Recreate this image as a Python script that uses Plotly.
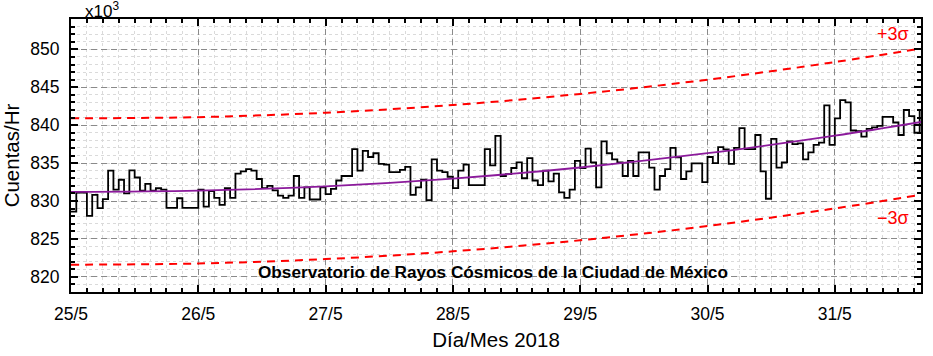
import plotly.graph_objects as go

# Hourly counts (x10^3 counts/hr), starting 25/5 00:00
counts = [
    828.6, 831.1, 831.1, 828.05, 830.8, 829.07, 830.25, 834.0, 831.5, 832.8,
    831.0, 834.05, 833.1, 831.37, 832.25, 831.37, 831.68, 831.5, 829.1, 829.1,
    830.36, 829.1, 829.1, 829.1, 831.5, 829.25, 831.3, 830.4, 829.5, 831.7,
    830.4, 833.6, 833.9, 834.2, 834.0, 832.9, 831.7, 832.0, 831.4, 830.7,
    830.4, 830.7, 833.3, 830.4, 831.8, 830.2, 830.2, 831.8, 830.9, 831.6,
    832.7, 833.3, 833.3, 836.85, 834.0, 836.6, 835.8, 836.3, 834.9, 834.8,
    833.8, 833.8, 834.1, 834.5, 830.8, 831.8, 832.8, 830.1, 835.5, 834.0,
    833.8, 833.2, 831.7, 834.0, 834.8, 832.1, 832.1, 832.1, 836.85, 834.7,
    838.6, 833.3, 833.55, 834.35, 835.1, 833.0, 835.65, 832.7, 832.1, 834.0,
    832.6, 833.6, 831.15, 830.4, 831.5, 835.3, 834.35, 836.9, 835.1, 831.8,
    837.85, 836.3, 835.5, 835.1, 833.3, 835.3, 833.3, 836.4, 836.4, 834.4,
    831.5, 833.3, 834.2, 837.0, 835.75, 832.9, 833.9, 834.96, 834.96, 832.5,
    835.8, 835.0, 837.1, 836.8, 834.9, 837.0, 839.6, 836.85, 836.85, 838.7,
    833.9, 830.3, 838.2, 834.4, 835.1, 837.85, 837.5, 837.6, 835.5, 836.4,
    837.4, 837.7, 842.6, 837.4, 840.9, 843.3, 843.0, 839.3, 839.2, 838.5,
    839.5, 839.7, 839.9, 841.1, 841.1, 840.35, 838.7, 842.0, 841.2, 839.0,
    841.9,
]
hours = list(range(len(counts)))

# Fit curve and +/-3 sigma bands (read at day marks)
fit_days = [0, 1, 2, 3, 4, 5, 6, 6.68]
fit_vals = [831.2, 831.36, 831.94, 832.96, 834.42, 836.3, 838.62, 840.43]
upper_vals = [840.9, 841.06, 841.64, 842.66, 844.12, 846.0, 848.32, 850.13]
lower_vals = [821.6, 821.76, 822.34, 823.36, 824.82, 826.7, 829.02, 830.83]

day_ticks = [0, 1, 2, 3, 4, 5, 6]
day_labels = ["25/5", "26/5", "27/5", "28/5", "29/5", "30/5", "31/5"]
y_ticks = [820, 825, 830, 835, 840, 845, 850]

days = [h / 24 for h in hours]

fig = go.Figure()
fig.add_trace(go.Scatter(x=fit_days, y=upper_vals, mode="lines",
                         line=dict(color="#ff0000", width=2, dash="8px,6px", shape="spline"),
                         hoverinfo="skip"))
fig.add_trace(go.Scatter(x=fit_days, y=lower_vals, mode="lines",
                         line=dict(color="#ff0000", width=2, dash="8px,6px", shape="spline"),
                         hoverinfo="skip"))
fig.add_trace(go.Scatter(x=days, y=counts, mode="lines",
                         line=dict(color="black", width=1.8, shape="hv")))
fig.add_trace(go.Scatter(x=fit_days, y=fit_vals, mode="lines",
                         line=dict(color="#8b1a9b", width=1.8, shape="spline")))

font_family = "Liberation Sans, Arial, sans-serif"

fig.update_layout(
    width=933, height=356,
    margin=dict(l=71, r=12, t=19, b=64),
    paper_bgcolor="white", plot_bgcolor="white",
    showlegend=False,
    font=dict(family=font_family, size=17, color="black"),
)

fig.update_xaxes(
    range=[0, 6.677],
    automargin=False,
    tickvals=day_ticks, ticktext=day_labels,
    ticks="inside", ticklen=7, tickwidth=1.5, tickcolor="black",
    showline=True, linecolor="black", linewidth=2, mirror="allticks",
    showgrid=True, gridcolor="#8a8a8a", griddash="6px,4px", gridwidth=1,
    zeroline=False,
    tickfont=dict(size=17.5),
    ticklabelstandoff=5,
    minor=dict(dtick=0.125, tick0=0, ticks="inside", ticklen=4, tickcolor="black",
               showgrid=True, gridcolor="#dadada", griddash="3px,3px", gridwidth=1),
    title=dict(text="Día/Mes 2018", font=dict(size=20.5), standoff=10),
)
fig.update_yaxes(
    range=[818, 854],
    automargin=False,
    tickvals=y_ticks,
    ticks="inside", ticklen=7, tickwidth=1.5, tickcolor="black",
    showline=True, linecolor="black", linewidth=2, mirror="allticks",
    showgrid=True, gridcolor="#8a8a8a", griddash="6px,4px", gridwidth=1,
    zeroline=False,
    tickfont=dict(size=17.5),
    ticklabelstandoff=6,
    minor=dict(dtick=1, tick0=818, ticks="inside", ticklen=4, tickcolor="black",
               showgrid=True, gridcolor="#dadada", griddash="3px,3px", gridwidth=1),
    title=dict(text="Cuentas/Hr", font=dict(size=20.5), standoff=6),
)

fig.add_annotation(text="x10<sup>3</sup>", xref="paper", yref="paper",
                   x=0.0, y=1.0, xanchor="left", yanchor="bottom", xshift=12, yshift=-4,
                   showarrow=False, font=dict(size=17))
fig.add_annotation(text="+3σ", xref="paper", yref="y", x=1.0, y=852.0,
                   xanchor="right", yanchor="middle", xshift=-10,
                   showarrow=False, font=dict(size=18, color="#ff0000"))
fig.add_annotation(text="−3σ", xref="paper", yref="y", x=1.0, y=827.8,
                   xanchor="right", yanchor="middle", xshift=-10,
                   showarrow=False, font=dict(size=18, color="#ff0000"))
fig.add_annotation(text="<b>Observatorio de Rayos Cósmicos de la Ciudad de México</b>",
                   xref="paper", yref="y", x=0.497, y=820.7,
                   xanchor="center", yanchor="middle",
                   showarrow=False, font=dict(size=17.2, color="black"))

fig.write_html("out.html",
               config={"displayModeBar": False},
               post_script="document.body.style.margin='0';document.body.style.overflow='hidden';")
